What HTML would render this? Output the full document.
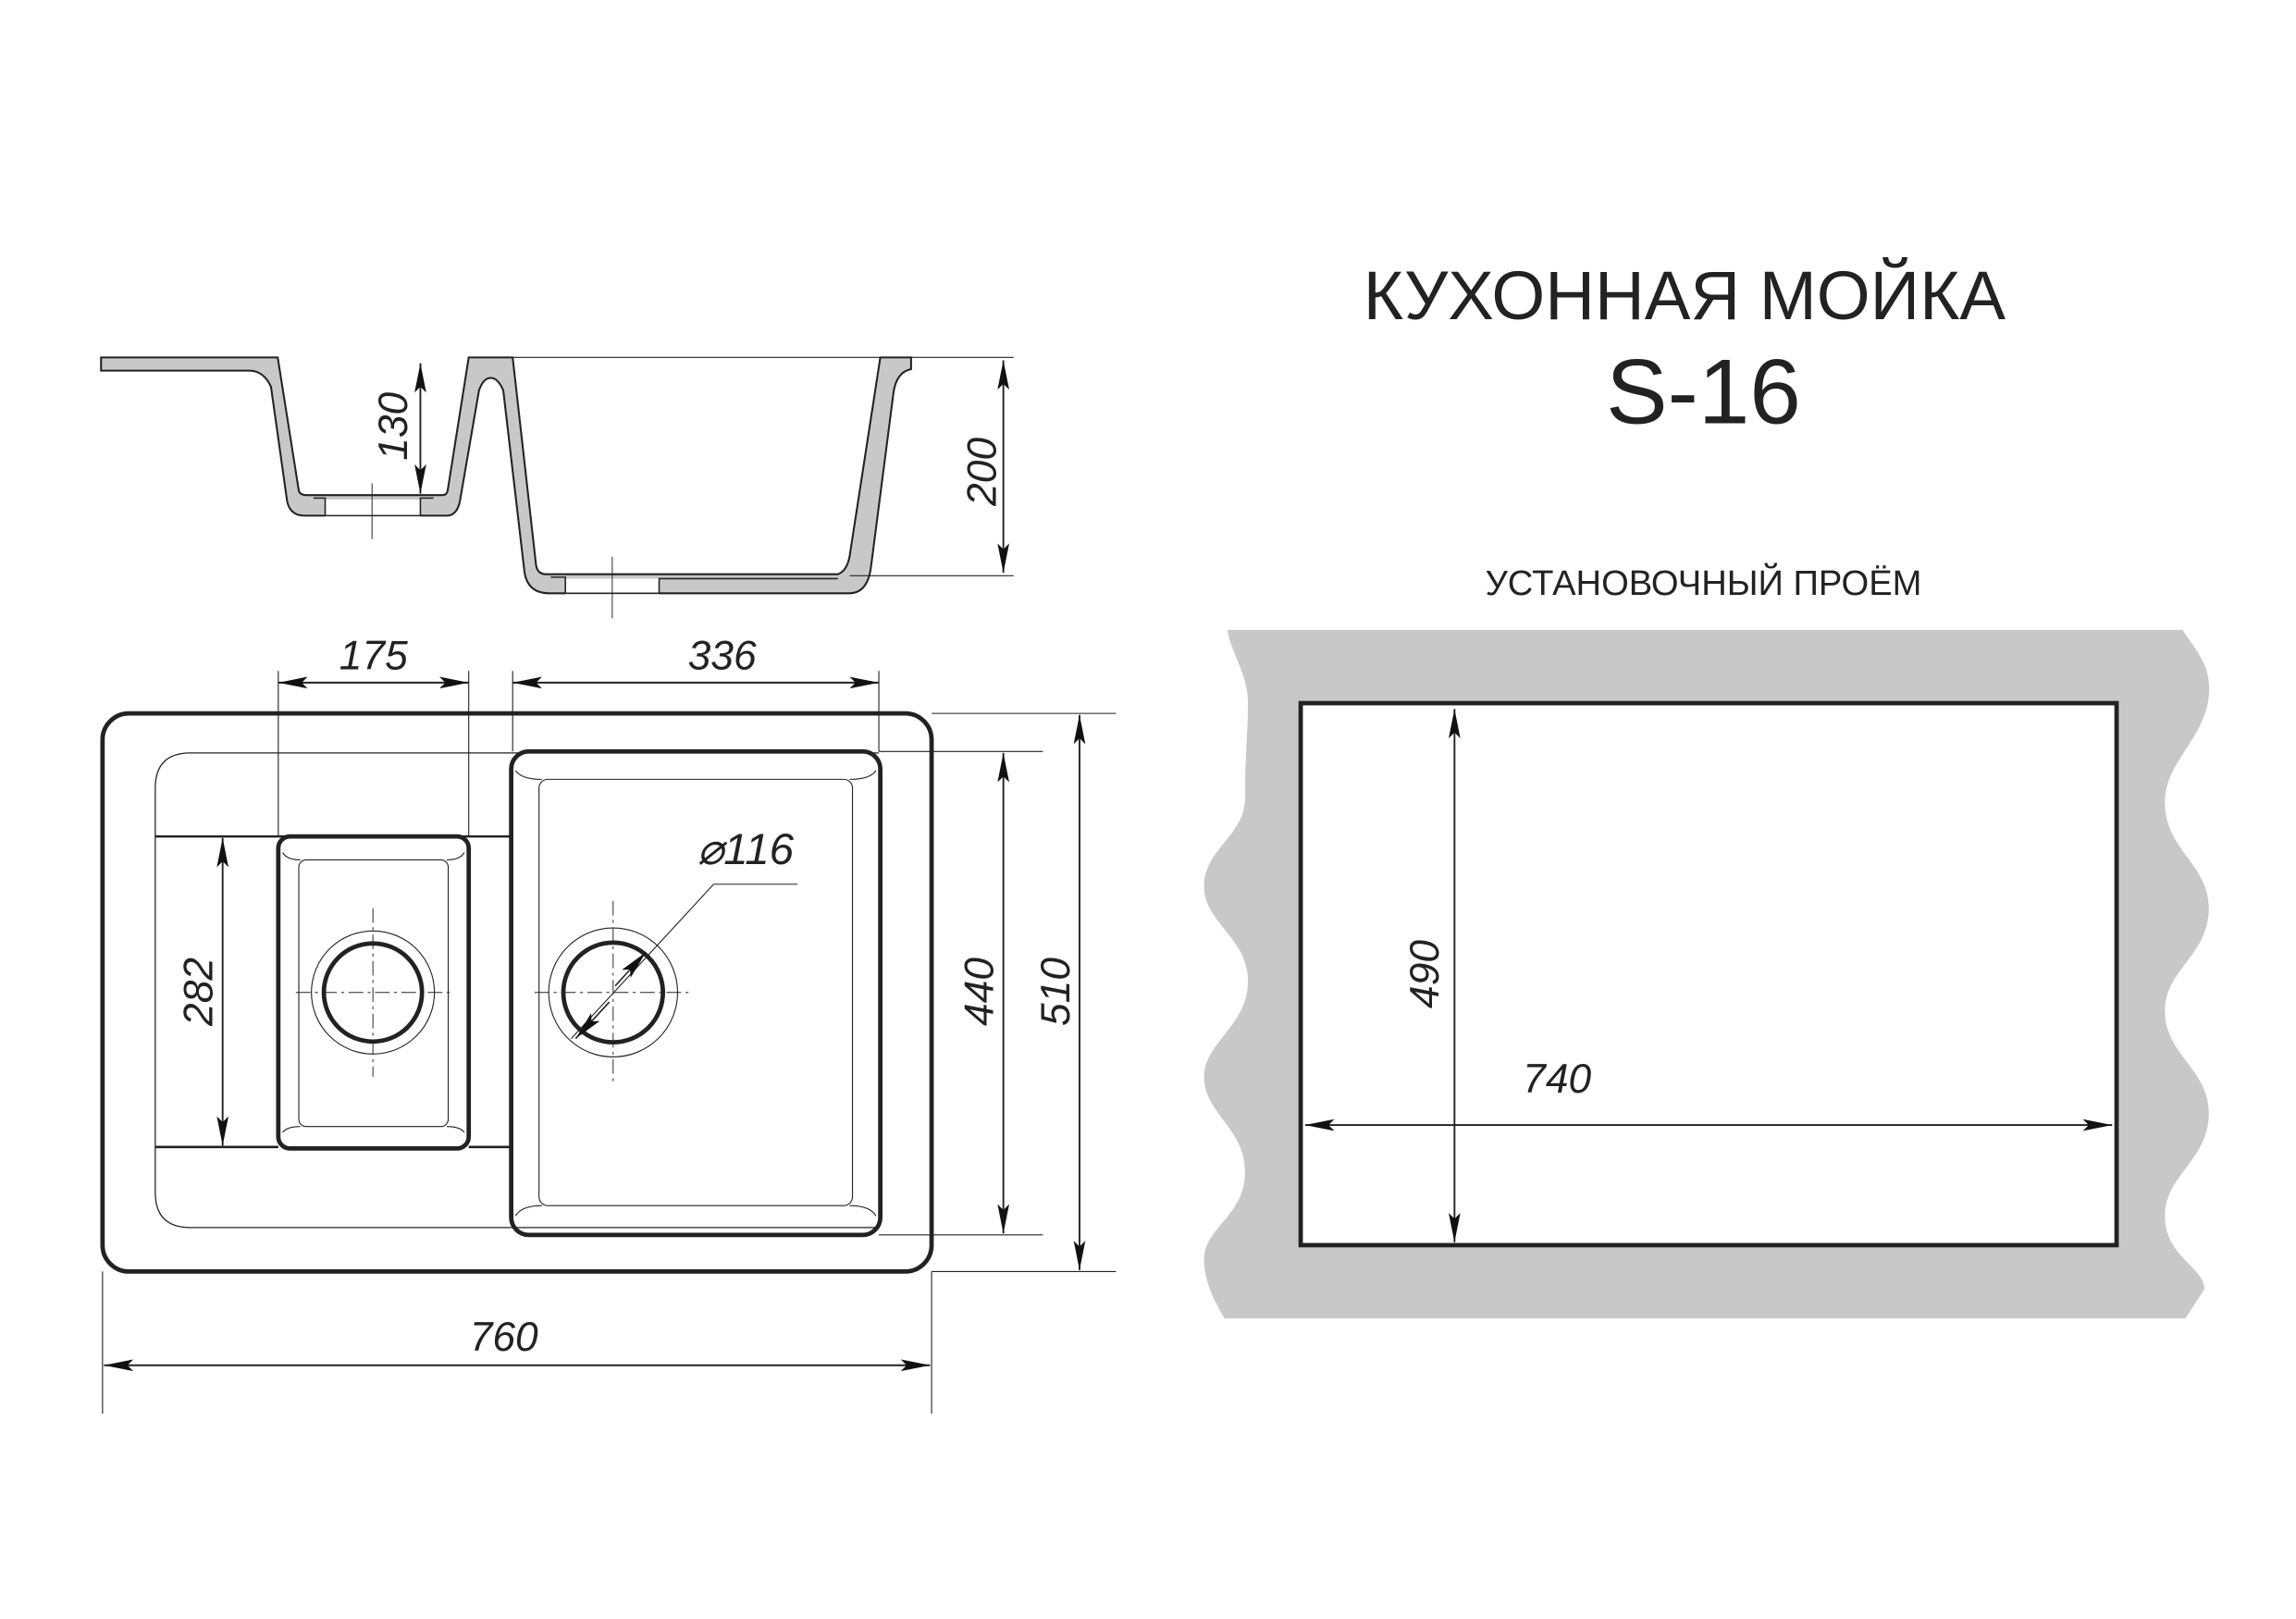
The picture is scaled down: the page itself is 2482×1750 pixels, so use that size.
<!DOCTYPE html>
<html><head><meta charset="utf-8"><style>
html,body{margin:0;padding:0;background:#fff;}
svg{display:block;}
text{font-family:"Liberation Sans",sans-serif;fill:#222;}
</style></head><body>
<svg width="2482" height="1750" viewBox="0 0 1567.5 1105.2" preserveAspectRatio="none" xmlns="http://www.w3.org/2000/svg">
<defs>
<marker id="a" viewBox="0 0 20 8" refX="20" refY="4" markerWidth="20" markerHeight="8" markerUnits="userSpaceOnUse" orient="auto-start-reverse"><path d="M0,0 L20,4 L0,8 L4,4 Z" fill="#111"/></marker>
</defs>
<g stroke="#222" fill="none">
<path d="M69,244 L189.6,244 L204,335 Q205,338 209,338 L302,338 Q305,338 305.6,335 L320,244 L350,244 L366,386 Q367,392 373,392 L572,392 Q578,390 580,380 L601,244 L622,244 L622,252 Q612,254 610,268 L594.5,388 Q592,405 579.8,405 L375,405 Q360,405 358,390 L343.6,266.6 Q340,258 335,258 Q330,258 327,266.6 L314,342 Q312,352 305,352 L208,352 Q198,352 196,342 L185,264 Q180,253 170,253 L69,253 Z" fill="#c8c8c8" stroke-width="1.3"/>
<rect x="222" y="341" width="65" height="12" fill="#fff" stroke="none"/>
<path d="M214,340 L222,340 L222,352 M287,352 L287,340 L296,340 M222,352 L287,352" stroke-width="1"/>
<rect x="386" y="395" width="64" height="11" fill="#fff" stroke="none"/>
<path d="M376,394 L386,394 L386,405 M450,405 L450,395 L572,395 M386,405 L450,405" stroke-width="1"/>
<path d="M254,330 V368 M418,380 V422" stroke-width="0.6"/>
<path d="M350,244 H692 M580,393 H692" stroke-width="0.7"/>
<line x1="685" y1="246" x2="685" y2="391" stroke-width="1.2" marker-start="url(#a)" marker-end="url(#a)"/>
<line x1="287" y1="248" x2="287" y2="337" stroke-width="1.2" marker-start="url(#a)" marker-end="url(#a)"/>

<rect x="70" y="487" width="566" height="381" rx="18" stroke-width="3"/>
<path d="M349,514 H130 Q106,514 106,538 V814 Q106,838 130,838 H349" stroke-width="0.8"/>
<path d="M349,514 H600 M349,838 H600" stroke-width="0.8"/>
<path d="M106,571 H349 M106,783 H190" stroke-width="1.6"/>
<path d="M320,783 H349" stroke-width="1.6"/>
<rect x="190" y="571" width="130" height="213" rx="8" stroke-width="3"/>
<rect x="204" y="587" width="102" height="182" rx="5" stroke-width="0.7"/>
<path d="M193,582 Q196,587 205,587 M317,582 Q314,587 305,587 M193,773 Q196,769 205,769 M317,773 Q314,769 305,769" stroke-width="0.7"/>
<rect x="349" y="513" width="252" height="330" rx="12" stroke-width="3"/>
<rect x="368" y="532" width="214" height="291" rx="6" stroke-width="0.7"/>
<path d="M352,526 Q356,532 370,532 M598,526 Q594,532 580,532 M352,830 Q356,823 370,823 M598,830 Q594,823 580,823" stroke-width="0.7"/>
<circle cx="254.6" cy="677.5" r="42" stroke-width="0.7"/>
<circle cx="254.6" cy="677.5" r="33.5" stroke-width="3"/>
<circle cx="418.6" cy="677.5" r="44" stroke-width="0.7"/>
<circle cx="418.6" cy="677.5" r="34" stroke-width="3"/>
<path d="M202,677.5 H308 M254.6,620 V735 M365,677.5 H473 M418.6,615 V740" stroke-width="0.6" stroke-dasharray="10,3,2,3"/>
<line x1="487.2" y1="603.6" x2="390" y2="709" stroke-width="0.7"/>
<line x1="487.2" y1="603.6" x2="544.5" y2="603.6" stroke-width="0.7"/>
<line x1="420" y1="673" x2="441" y2="650" stroke-width="1" marker-end="url(#a)"/>
<line x1="416" y1="684" x2="393" y2="709" stroke-width="1" marker-end="url(#a)"/>
<path d="M190,458 V571 M320,458 V571 M350,458 V513 M600,458 V513" stroke-width="0.7"/>
<line x1="190" y1="466" x2="320" y2="466" stroke-width="1.2" marker-start="url(#a)" marker-end="url(#a)"/>
<line x1="350" y1="466" x2="600" y2="466" stroke-width="1.2" marker-start="url(#a)" marker-end="url(#a)"/>
<line x1="152" y1="572" x2="152" y2="782" stroke-width="1.2" marker-start="url(#a)" marker-end="url(#a)"/>
<path d="M600,513 H712 M600,843 H712 M636,487 H762 M636,868 H762" stroke-width="0.7"/>
<line x1="685" y1="514" x2="685" y2="842" stroke-width="1.2" marker-start="url(#a)" marker-end="url(#a)"/>
<line x1="737" y1="488" x2="737" y2="867" stroke-width="1.2" marker-start="url(#a)" marker-end="url(#a)"/>
<path d="M70,868 V965 M636,868 V965" stroke-width="0.7"/>
<line x1="71" y1="932" x2="635" y2="932" stroke-width="1.2" marker-start="url(#a)" marker-end="url(#a)"/>

<path d="M838,430 H1490 C1500,445 1510,455 1508,475 C1505,505 1478,520 1478,548 C1478,580 1508,590 1508,620 C1508,652 1478,662 1478,690 C1478,720 1508,730 1508,760 C1508,792 1478,802 1478,830 C1478,858 1505,865 1505,880 L1492,900 H836 C830,890 822,875 822,860 C822,838 850,830 850,800 C850,770 822,760 822,735 C822,712 852,700 852,670 C852,640 822,630 822,605 C822,580 850,570 850,545 C850,515 852,500 852,480 C852,460 840,445 838,430 Z" fill="#c8c8c8" stroke="none"/>
<rect x="888" y="480" width="557" height="370" fill="#fff" stroke-width="3"/>
<line x1="993" y1="484" x2="993" y2="848" stroke-width="1.2" marker-start="url(#a)" marker-end="url(#a)"/>
<line x1="891" y1="768" x2="1442" y2="768" stroke-width="1.2" marker-start="url(#a)" marker-end="url(#a)"/>
</g>
<g font-style="italic" font-size="28">
<text x="255" y="457" text-anchor="middle">175</text>
<text x="493" y="457" text-anchor="middle">336</text>
<text x="344" y="922" text-anchor="middle">760</text>
<text transform="translate(145,677) rotate(-90)" text-anchor="middle">282</text>
<text transform="translate(678,677) rotate(-90)" text-anchor="middle">440</text>
<text transform="translate(730,677) rotate(-90)" text-anchor="middle">510</text>
<text transform="translate(680,322) rotate(-90)" text-anchor="middle">200</text>
<text transform="translate(278,291) rotate(-90)" text-anchor="middle">130</text>
<text x="476" y="590" font-size="30">⌀116</text>
<text x="1063" y="746" text-anchor="middle">740</text>
<text transform="translate(982,665) rotate(-90)" text-anchor="middle">490</text>
</g>
<text x="1150" y="218" text-anchor="middle" font-size="47">КУХОННАЯ МОЙКА</text>
<text x="1163" y="289" text-anchor="middle" font-size="63">S-16</text>
<text x="1163" y="406" text-anchor="middle" font-size="24" textLength="298" lengthAdjust="spacingAndGlyphs">УСТАНОВОЧНЫЙ ПРОЁМ</text>
</svg>
</body></html>
